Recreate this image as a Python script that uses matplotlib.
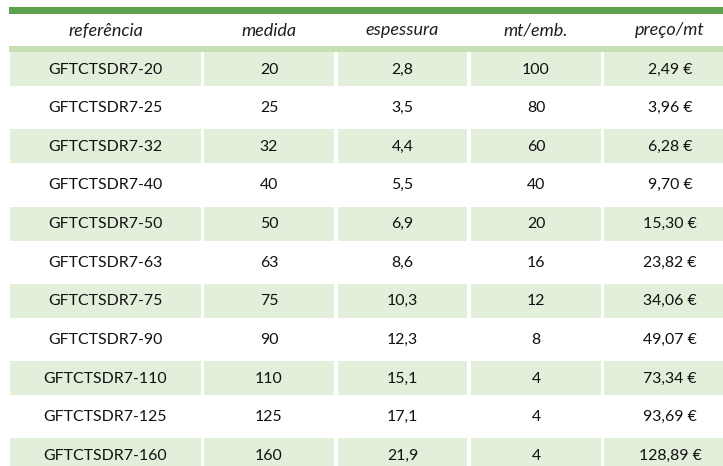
import matplotlib
matplotlib.use("Agg")
import matplotlib.pyplot as plt
from matplotlib.patches import Rectangle

headers = ["referência", "medida", "espessura", "mt/emb.", "preço/mt"]
referencias = ["GFTCTSDR7-20", "GFTCTSDR7-25", "GFTCTSDR7-32", "GFTCTSDR7-40",
               "GFTCTSDR7-50", "GFTCTSDR7-63", "GFTCTSDR7-75", "GFTCTSDR7-90",
               "GFTCTSDR7-110", "GFTCTSDR7-125", "GFTCTSDR7-160"]
medidas = [20, 25, 32, 40, 50, 63, 75, 90, 110, 125, 160]
espessuras = ["2,8", "3,5", "4,4", "5,5", "6,9", "8,6", "10,3", "12,3", "15,1", "17,1", "21,9"]
mt_emb = [100, 80, 60, 40, 20, 16, 12, 8, 4, 4, 4]
precos = ["2,49 €", "3,96 €", "6,28 €", "9,70 €", "15,30 €", "23,82 €",
          "34,06 €", "49,07 €", "73,34 €", "93,69 €", "128,89 €"]

# layout in pixel units
col_edges = [(10, 201), (204, 334), (338, 467), (471, 601), (604, 736)]
row_top0, row_pitch, row_h = 52, 38.63, 34

plt.rcParams["font.family"] = ["Lato", "DejaVu Sans"]
fig = plt.figure(figsize=(7.23, 4.66), dpi=100)
ax = fig.add_axes([0, 0, 1, 1])
ax.set_xlim(0, 723)
ax.set_ylim(466, 0)
ax.axis("off")

# top bars
ax.add_patch(Rectangle((9, 7), 730, 7, color="#5FA04E", lw=0))
ax.add_patch(Rectangle((9, 46), 730, 5.5, color="#C6E0B4", lw=0))

for (x0, x1), h in zip(col_edges, headers):
    ax.text((x0 + x1) / 2, 30.5, h, ha="center", va="center", fontsize=13,
            style="italic", color="#1f1f1f")

rows = list(zip(referencias, medidas, espessuras, mt_emb, precos))
for i, row in enumerate(rows):
    top = row_top0 + i * row_pitch
    for (x0, x1), val in zip(col_edges, row):
        if i % 2 == 0:
            ax.add_patch(Rectangle((x0, top), x1 - x0, row_h, color="#E2EFDA", lw=0))
        ax.text((x0 + x1) / 2, top + row_h / 2 + 0.5, str(val), ha="center",
                va="center", fontsize=11.4, color="#111111")

fig.savefig("out.png", dpi=100)
